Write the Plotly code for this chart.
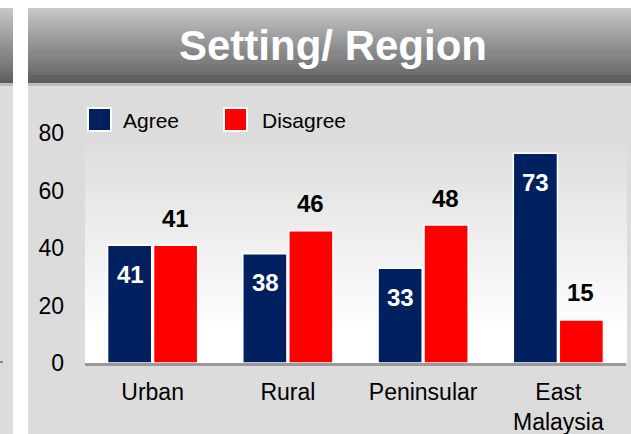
import plotly.graph_objects as go

# ---- data ----
categories = ["Urban", "Rural", "Peninsular", "East<br>Malaysia"]
agree = [41, 38, 33, 73]
disagree = [41, 46, 48, 15]
series_names = ["Agree", "Disagree"]
y_ticks = [0, 20, 40, 60, 80]
title_text = "Setting/ Region"

# ---- style ----
W, H = 631, 434
L, R, T, B = 85, 5, 133, 71
PW, PH = W - L - R, H - T - B
NAVY = "#002060"
RED = "#FF0000"
FONT = "Arial, Liberation Sans, sans-serif"


def xp(px):
    return (px - L) / PW


def yp(py):
    return (H - B - py) / PH


def mix(c1, c2, t):
    return "rgb(%d,%d,%d)" % tuple(round(a + (b - a) * t) for a, b in zip(c1, c2))


shapes = []
# panel bodies
for x0, x1 in [(0, 13), (28, 631)]:
    shapes.append(dict(type="rect", xref="paper", yref="paper", x0=xp(x0), x1=xp(x1),
                       y0=yp(434), y1=yp(84), fillcolor="#dcdcdc", line_width=0, layer="below"))
    # header gradient
    n = 38
    top, bot = 8, 83
    for i in range(n):
        a = top + (bot - top) * i / n
        b = top + (bot - top) * (i + 1) / n
        shapes.append(dict(type="rect", xref="paper", yref="paper", x0=xp(x0), x1=xp(x1),
                           y0=yp(b + 0.5), y1=yp(a),
                           fillcolor=mix((198, 199, 201), (92, 92, 92), i / (n - 1)),
                           line_width=0, layer="below"))
    shapes.append(dict(type="rect", xref="paper", yref="paper", x0=xp(x0), x1=xp(x1),
                       y0=yp(86), y1=yp(83), fillcolor="#bdbdbd", line_width=0, layer="below"))

# plot-area gradient
n = 46
for i in range(n):
    a = T + PH * i / n
    b = T + PH * (i + 1) / n
    t = min(1.0, (i + 0.5) / n * 1.15)
    shapes.append(dict(type="rect", xref="paper", yref="paper", x0=0, x1=xp(627),
                       y0=yp(b + 0.5), y1=yp(a), fillcolor=mix((220, 220, 220), (255, 255, 255), t),
                       line_width=0, layer="below"))

# left panel axis fragment
shapes.append(dict(type="line", xref="paper", yref="paper", x0=xp(0), x1=xp(3), y0=yp(362), y1=yp(362),
                   line=dict(color="#8a8a8a", width=2), layer="below"))

# manual legend
leg = [(88, NAVY, 121, series_names[0]), (224, RED, 260, series_names[1])]
annotations = []
for sx, col, tx, name in leg:
    shapes.append(dict(type="rect", xref="paper", yref="paper", x0=xp(sx), x1=xp(sx + 23),
                       y0=yp(131), y1=yp(108), fillcolor=col, line=dict(color="white", width=2)))
    annotations.append(dict(xref="paper", yref="paper", x=xp(tx), y=yp(120.5), text=name,
                            showarrow=False, xanchor="left", yanchor="middle",
                            font=dict(family=FONT, size=21, color="black")))

# title
annotations.append(dict(xref="paper", yref="paper", x=xp(332.5), y=yp(46), text="<b>%s</b>" % title_text,
                        showarrow=False, xanchor="center", yanchor="middle",
                        font=dict(family=FONT, size=42, color="white")))

# value labels
for c, v in zip(categories, agree):
    annotations.append(dict(x=c, y=v, text="<b>%d</b>" % v, showarrow=False, xshift=-22.5, yshift=-29,
                            yanchor="middle", font=dict(family=FONT, size=24, color="white")))
for c, v in zip(categories, disagree):
    annotations.append(dict(x=c, y=v, text="<b>%d</b>" % v, showarrow=False, xshift=22.5, yshift=27,
                            yanchor="middle", font=dict(family=FONT, size=24, color="black")))

fig = go.Figure()
fig.add_trace(go.Bar(x=categories, y=agree, name=series_names[0],
                     marker=dict(color=NAVY, line=dict(color="white", width=1.5))))
fig.add_trace(go.Bar(x=categories, y=disagree, name=series_names[1],
                     marker=dict(color=RED, line=dict(color="white", width=1.5))))

fig.update_layout(
    width=W, height=H, autosize=False,
    margin=dict(l=L, r=R, t=T, b=B, pad=0),
    paper_bgcolor="white", plot_bgcolor="rgba(0,0,0,0)",
    barmode="group", bargap=0.32, bargroupgap=0.04,
    showlegend=False,
    shapes=shapes, annotations=annotations,
    font=dict(family=FONT, size=23, color="black"),
)
fig.update_xaxes(automargin=False, showline=True, linecolor="#9a9a9a", linewidth=2.5, showgrid=False,
                 ticks="", tickfont=dict(size=23, color="black"), ticklabelstandoff=7)
fig.update_yaxes(automargin=False, range=[0, 80], tickvals=y_ticks, showgrid=False, zeroline=False,
                 showline=False, ticks="", tickfont=dict(size=23, color="black"), ticklabelstandoff=20)

fig.write_html(
    "out.html",
    config={"displayModeBar": False},
    post_script="document.body.style.margin='0';document.body.style.overflow='hidden';",
)
